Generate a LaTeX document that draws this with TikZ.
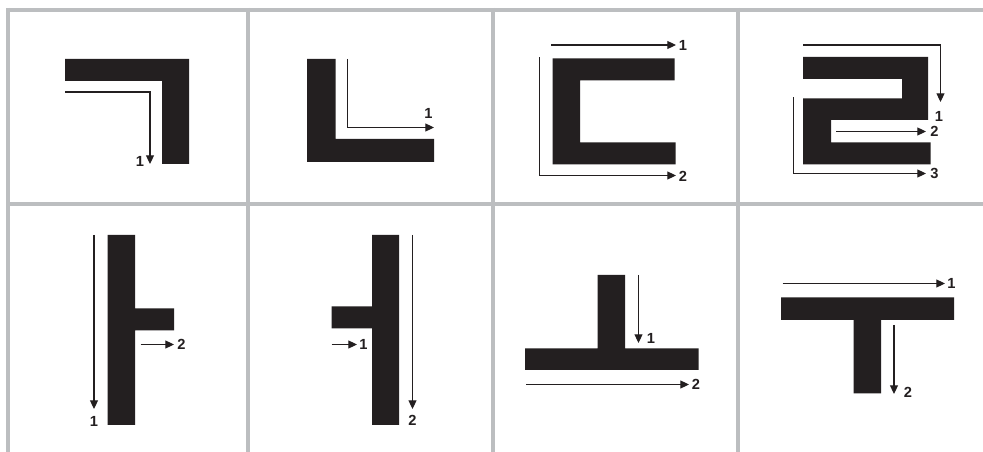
\documentclass[tikz,border=0pt]{standalone}
\usepackage{fontspec}
\setmainfont{Liberation Sans}
\usetikzlibrary{arrows.meta}
\definecolor{gridgray}{HTML}{BCBEC0}
\definecolor{ink}{HTML}{231F20}
\tikzset{
  gridline/.style={draw=gridgray,line width=3pt},
  glyph/.style={fill=ink,draw=none},
  flow/.style={draw=ink,line width=0.8pt,-{Triangle[length=6.5pt,width=6pt]}},
  num/.style={font=\bfseries\fontsize{11}{12}\selectfont,text=ink,inner sep=0pt}
}
\begin{document}
\begin{tikzpicture}[x=0.75pt,y=-0.75pt]
\useasboundingbox (0,0) rectangle (983,452);
\fill[white] (0,0) rectangle (983,452);
% grid
\draw[gridline] (6,10) -- (983,10);
\draw[gridline] (6,204) -- (983,204);
\foreach \gx in {8,247.5,492.5,737.5} \draw[gridline] (\gx,8) -- (\gx,452);

% cell 1 : ㄱ
\fill[glyph] (65,59) -- (189,59) -- (189,164) -- (162,164) -- (162,81) -- (65,81) -- cycle;
\coordinate (c1s) at (65,92); \coordinate (c1e) at (150,164);
\draw[flow] (c1s) -| (c1e);
\node[num] (n1a) at (140,161) {1};

% cell 2 : ㄴ
\fill[glyph] (307,59) -- (335.5,59) -- (335.5,139) -- (434,139) -- (434,162) -- (307,162) -- cycle;
\coordinate (c2s) at (347.5,59); \coordinate (c2e) at (434,127.5);
\draw[flow] (c2s) |- (c2e);
\node[num] (n2a) at (428.5,113) {1};

% cell 3 : ㄷ
\fill[glyph] (552.5,58.5) -- (674.5,58.5) -- (674.5,80.5) -- (580,80.5) -- (580,142.5) -- (675.5,142.5) -- (675.5,164.5) -- (552.5,164.5) -- cycle;
\coordinate (c3as) at (551,45); \coordinate (c3ae) at (676,45);
\draw[flow] (c3as) -- (c3ae);
\node[num] (n3a) at (683,45) {1};
\coordinate (c3bs) at (539.5,57.5); \coordinate (c3be) at (676,175.5);
\draw[flow] (c3bs) |- (c3be);
\node[num] (n3b) at (683,176) {2};

% cell 4 : ㄹ
\fill[glyph] (803,57) -- (928,57) -- (928,120) -- (831,120) -- (831,142.5) -- (930.5,142.5) -- (930.5,164.5) -- (803,164.5) -- (803,98.5) -- (902,98.5) -- (902,79) -- (803,79) -- cycle;
\coordinate (c4as) at (803,45); \coordinate (c4ae) at (940.5,102);
\draw[flow] (c4as) -| (c4ae);
\node[num] (n4a) at (939,116) {1};
\coordinate (c4bs) at (836,131.5); \coordinate (c4be) at (926,131.5);
\draw[flow] (c4bs) -- (c4be);
\node[num] (n4b) at (934.5,131.5) {2};
\coordinate (c4cs) at (793.5,97.5); \coordinate (c4ce) at (926,173.5);
\draw[flow] (c4cs) |- (c4ce);
\node[num] (n4c) at (934.5,173.5) {3};

% cell 5 : ㅏ
\fill[glyph] (107.5,235) -- (135,235) -- (135,308.5) -- (174,308.5) -- (174,330.5) -- (135,330.5) -- (135,425) -- (107.5,425) -- cycle;
\coordinate (c5as) at (94,235); \coordinate (c5ae) at (94,409);
\draw[flow] (c5as) -- (c5ae);
\node[num] (n5a) at (94,421) {1};
\coordinate (c5bs) at (140.5,344.5); \coordinate (c5be) at (174,344.5);
\draw[flow] (c5bs) -- (c5be);
\node[num] (n5b) at (181.5,344.5) {2};

% cell 6 : ㅓ
\fill[glyph] (372,235) -- (399,235) -- (399,425) -- (372,425) -- (372,328.5) -- (331.5,328.5) -- (331.5,306.5) -- (372,306.5) -- cycle;
\coordinate (c6as) at (331.5,344.5); \coordinate (c6ae) at (357,344.5);
\draw[flow] (c6as) -- (c6ae);
\node[num] (n6a) at (363.5,344.5) {1};
\coordinate (c6bs) at (412.5,235); \coordinate (c6be) at (412.5,409);
\draw[flow] (c6bs) -- (c6be);
\node[num] (n6b) at (412.5,420.5) {2};

% cell 7 : ㅗ
\fill[glyph] (597.5,275) -- (625,275) -- (625,348.5) -- (698.5,348.5) -- (698.5,370) -- (525,370) -- (525,348.5) -- (597.5,348.5) -- cycle;
\coordinate (c7as) at (638.5,275); \coordinate (c7ae) at (638.5,343);
\draw[flow] (c7as) -- (c7ae);
\node[num] (n7a) at (651,338.5) {1};
\coordinate (c7bs) at (526,384.5); \coordinate (c7be) at (689,384.5);
\draw[flow] (c7bs) -- (c7be);
\node[num] (n7b) at (696,384.5) {2};

% cell 8 : ㅜ
\fill[glyph] (781,297.5) -- (954,297.5) -- (954,320) -- (881,320) -- (881,393.5) -- (853.5,393.5) -- (853.5,320) -- (781,320) -- cycle;
\coordinate (c8as) at (782.5,283.5); \coordinate (c8ae) at (945,283.5);
\draw[flow] (c8as) -- (c8ae);
\node[num] (n8a) at (951.5,283.5) {1};
\coordinate (c8bs) at (894,325); \coordinate (c8be) at (894,394);
\draw[flow] (c8bs) -- (c8be);
\node[num] (n8b) at (908,392) {2};
\end{tikzpicture}
\end{document}
